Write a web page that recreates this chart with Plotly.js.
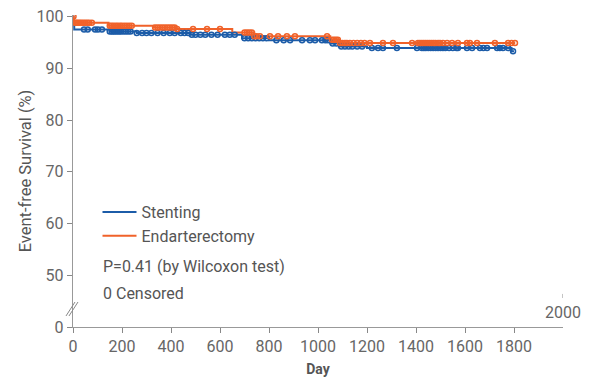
<!DOCTYPE html>
<html>
<head>
<meta charset="utf-8">
<script src="https://cdn.plot.ly/plotly-3.0.1.min.js"></script>
<style>html,body{margin:0;padding:0;background:#fff;}#chart{width:595px;height:379px;}</style>
</head>
<body>
<div id="chart"></div>
<script>
// Kaplan-Meier step data (day, survival %)
const stentDays = [0, 2, 5, 150, 260, 480, 690, 800, 1050, 1085, 1200, 1790, 1800];
const stentSurv = [100, 98.5, 97.5, 97.1, 96.8, 96.5, 95.8, 95.4, 94.8, 94.2, 93.9, 93.3, 93.3];
const endDays = [0, 3, 145, 330, 420, 650, 740, 1050, 1090, 1805];
const endSurv = [100, 98.8, 98.2, 97.9, 97.6, 96.9, 96.2, 95.5, 94.9, 94.9];

// censor mark days
const stentCensor = [45, 60, 90, 102, 118, 150, 158, 165, 172, 180, 188, 195, 205, 215, 225, 235,
  260, 282, 300, 320, 345, 370, 395, 415, 440, 455, 470, 485, 500, 520, 540, 565, 590, 620, 640, 660,
  700, 715, 730, 745, 760, 775, 790, 830, 860, 886, 935, 967, 988, 1016, 1030, 1041, 1060, 1075,
  1095, 1110, 1125, 1140, 1160, 1180, 1220, 1245, 1265, 1322, 1404, 1424, 1432, 1440, 1450, 1460,
  1470, 1480, 1490, 1500, 1510, 1520, 1535, 1550, 1565, 1571, 1608, 1629, 1661, 1675, 1690, 1731,
  1742, 1755, 1776, 1796];
const endCensor = [2, 8, 14, 20, 27, 34, 42, 50, 58, 66, 77, 150, 158, 166, 175, 183, 192, 200,
  210, 220, 230, 240, 335, 345, 355, 365, 375, 385, 395, 405, 415, 425, 490, 547, 600, 700, 710,
  720, 730, 740, 750, 763, 804, 837, 873, 906, 1037, 1057, 1065, 1073, 1081, 1090, 1100, 1110,
  1118, 1130, 1145, 1160, 1175, 1190, 1212, 1265, 1306, 1384, 1408, 1416, 1424, 1432, 1440, 1448,
  1456, 1464, 1472, 1480, 1490, 1498, 1510, 1527, 1547, 1571, 1608, 1620, 1649, 1722, 1776, 1790, 1804];

const xTicks = [0, 200, 400, 600, 800, 1000, 1200, 1400, 1600, 1800];
const yTickVals = [40, 50, 60, 70, 80, 90, 100];
const yTickText = ['0', '50', '60', '70', '80', '90', '100'];

const BLUE = '#1c5ca8';
const ORANGE = '#f0622a';

function stepAt(days, surv, d) {
  let v = surv[0];
  for (let i = 0; i < days.length; i++) { if (days[i] <= d) v = surv[i]; }
  return v;
}

const traces = [
  {x: stentDays, y: stentSurv, mode: 'lines', line: {shape: 'hv', color: BLUE, width: 2}, name: 'Stenting'},
  {x: endDays, y: endSurv, mode: 'lines', line: {shape: 'hv', color: ORANGE, width: 2}, name: 'Endarterectomy'},
  {x: stentCensor, y: stentCensor.map(d => stepAt(stentDays, stentSurv, d)), mode: 'markers', showlegend: false,
   marker: {symbol: 'circle-open', size: 5, color: BLUE, line: {width: 1.5, color: BLUE}}},
  {x: endCensor, y: endCensor.map(d => stepAt(endDays, endSurv, d)), mode: 'markers', showlegend: false,
   marker: {symbol: 'circle-open', size: 5, color: ORANGE, line: {width: 1.5, color: ORANGE}}}
];

const FONT = 'Roboto, "Open Sans", sans-serif';
const layout = {
  width: 595, height: 379,
  margin: {l: 73, r: 32, t: 15, b: 52},
  paper_bgcolor: '#fff', plot_bgcolor: '#fff',
  font: {family: FONT, size: 16, color: '#666'},
  showlegend: true,
  legend: {x: 0.05, y: 0.423, xanchor: 'left', yanchor: 'top', bgcolor: 'rgba(0,0,0,0)', itemwidth: 34,
           font: {family: FONT, size: 16, color: '#555'}, tracegroupgap: 0},
  xaxis: {range: [0, 2000], tickvals: xTicks, ticks: 'outside', ticklen: 5, tickcolor: '#888',
          showline: true, linecolor: '#999', linewidth: 1.2, showgrid: false, zeroline: false,
          tickfont: {family: FONT, size: 16, color: '#666'},
          title: {text: '<b>Day</b>', font: {family: FONT, size: 14, color: '#555'}, standoff: 8}},
  yaxis: {range: [40, 100.3], tickvals: yTickVals, ticktext: yTickText, ticks: 'outside', ticklen: 5,
          tickcolor: '#888', showline: true, linecolor: '#999', linewidth: 1.2, showgrid: false, zeroline: false,
          tickfont: {family: FONT, size: 16, color: '#666'},
          title: {text: 'Event-free Survival (%)', font: {family: FONT, size: 16.5, color: '#555'}, standoff: 0}},
  annotations: [
    {text: 'P=0.41 (by Wilcoxon test)', xref: 'paper', yref: 'paper', x: 0.058, y: 0.1955,
     xanchor: 'left', yanchor: 'middle', showarrow: false, font: {family: FONT, size: 16, color: '#555'}},
    {text: '0 Censored', xref: 'paper', yref: 'paper', x: 0.058, y: 0.106,
     xanchor: 'left', yanchor: 'middle', showarrow: false, font: {family: FONT, size: 16, color: '#555'}},
    {text: '2000', xref: 'x', yref: 'paper', x: 2000, y: 0.045, xanchor: 'center', yanchor: 'middle',
     showarrow: false, font: {family: FONT, size: 16, color: '#666'}}
  ],
  shapes: [
    {type: 'line', xref: 'x', yref: 'paper', x0: 2000, x1: 2000, y0: 0.093, y1: 0.106, line: {color: '#888', width: 1}},
    {type: 'line', xref: 'paper', yref: 'paper', x0: -0.0143, y0: 0.0353, x1: 0.0041, y1: 0.0801, line: {color: '#888', width: 1}},
    {type: 'line', xref: 'paper', yref: 'paper', x0: -0.0082, y0: 0.0353, x1: 0.0102, y1: 0.0801, line: {color: '#888', width: 1}}
  ]
};

Plotly.newPlot('chart', traces, layout, {displayModeBar: false, staticPlot: true});
</script>
</body>
</html>
